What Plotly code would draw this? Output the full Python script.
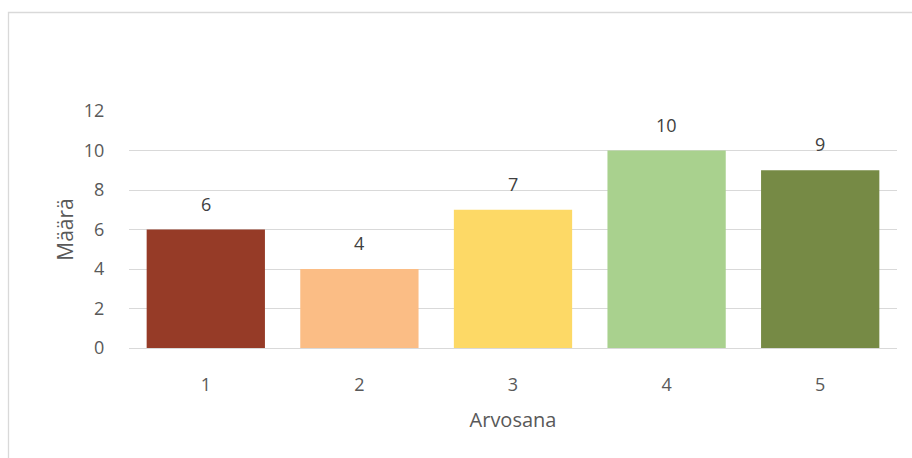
import plotly.graph_objects as go

categories = ["1", "2", "3", "4", "5"]
values = [6, 4, 7, 10, 9]
colors = ["#963B27", "#FBBD85", "#FDD966", "#A9D18E", "#768A45"]
y_ticks = [0, 2, 4, 6, 8, 10, 12]

W, H = 912, 458
L, R, T, B = 129, 15, 111, 110

fig = go.Figure(go.Bar(
    x=categories, y=values, marker=dict(color=colors, line=dict(width=0)),
    hoverinfo="skip",
))

for i, v in enumerate(values):
    fig.add_annotation(x=i, y=v, text=str(v), showarrow=False, yshift=26,
                       font=dict(family="Open Sans", size=18, color="#404040"))

pw = W - L - R
ph = H - T - B
def px_x(x):
    return (x - L) / pw
def px_y(y):
    return (H - B - y) / ph

fig.add_shape(type="rect", xref="paper", yref="paper",
              x0=px_x(8.5), x1=px_x(930), y0=px_y(470), y1=px_y(12.5),
              line=dict(color="#D9D9D9", width=1.3), fillcolor="rgba(0,0,0,0)", layer="below")

fig.update_layout(
    width=W, height=H, margin=dict(l=L, r=R, t=T, b=B),
    paper_bgcolor="white", plot_bgcolor="white",
    bargap=0.23, showlegend=False,
    font=dict(family="Open Sans", color="#595959"),
    xaxis=dict(type="category",
               title=dict(text="Arvosana", font=dict(size=20, color="#595959"), standoff=18),
               tickfont=dict(size=18, color="#595959"), showline=True, linecolor="#D9D9D9",
               linewidth=1.3, ticks="outside", ticklen=20, tickcolor="rgba(0,0,0,0)", showgrid=False),
    yaxis=dict(title=dict(text="Määrä", font=dict(size=21, color="#595959"), standoff=4),
               range=[0, 12], tickvals=y_ticks, tickfont=dict(size=18, color="#595959"),
               showgrid=True, gridcolor="#D9D9D9", gridwidth=1.3, zeroline=False,
               ticks="outside", ticklen=20, tickcolor="rgba(0,0,0,0)", showline=False),
)

fig.write_html("out.html")
